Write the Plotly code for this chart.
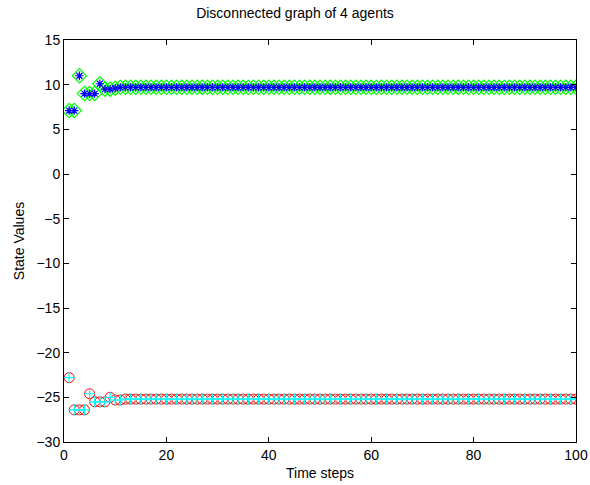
import plotly.graph_objects as go

time_steps = list(range(1, 101))

agent1 = [7.1, 7.1, 11.0, 9.0, 9.0, 9.0, 10.1, 9.5, 9.5, 9.6,
          9.7, 9.7, 9.7, 9.7, 9.7, 9.7, 9.7, 9.7, 9.7, 9.7,
          9.7, 9.7, 9.7, 9.7, 9.7, 9.7, 9.7, 9.7, 9.7, 9.7,
          9.7, 9.7, 9.7, 9.7, 9.7, 9.7, 9.7, 9.7, 9.7, 9.7,
          9.7, 9.7, 9.7, 9.7, 9.7, 9.7, 9.7, 9.7, 9.7, 9.7,
          9.7, 9.7, 9.7, 9.7, 9.7, 9.7, 9.7, 9.7, 9.7, 9.7,
          9.7, 9.7, 9.7, 9.7, 9.7, 9.7, 9.7, 9.7, 9.7, 9.7,
          9.7, 9.7, 9.7, 9.7, 9.7, 9.7, 9.7, 9.7, 9.7, 9.7,
          9.7, 9.7, 9.7, 9.7, 9.7, 9.7, 9.7, 9.7, 9.7, 9.7,
          9.7, 9.7, 9.7, 9.7, 9.7, 9.7, 9.7, 9.7, 9.7, 9.7]
agent2 = list(agent1)

agent3 = [-22.8, -26.4, -26.4, -26.4, -24.6, -25.5, -25.5, -25.5, -25.0, -25.3,
          -25.3, -25.2, -25.2, -25.2, -25.2, -25.2, -25.2, -25.2, -25.2, -25.2,
          -25.2, -25.2, -25.2, -25.2, -25.2, -25.2, -25.2, -25.2, -25.2, -25.2,
          -25.2, -25.2, -25.2, -25.2, -25.2, -25.2, -25.2, -25.2, -25.2, -25.2,
          -25.2, -25.2, -25.2, -25.2, -25.2, -25.2, -25.2, -25.2, -25.2, -25.2,
          -25.2, -25.2, -25.2, -25.2, -25.2, -25.2, -25.2, -25.2, -25.2, -25.2,
          -25.2, -25.2, -25.2, -25.2, -25.2, -25.2, -25.2, -25.2, -25.2, -25.2,
          -25.2, -25.2, -25.2, -25.2, -25.2, -25.2, -25.2, -25.2, -25.2, -25.2,
          -25.2, -25.2, -25.2, -25.2, -25.2, -25.2, -25.2, -25.2, -25.2, -25.2,
          -25.2, -25.2, -25.2, -25.2, -25.2, -25.2, -25.2, -25.2, -25.2, -25.2]
agent4 = list(agent3)

FONT = "Liberation Sans, Arial, Helvetica, sans-serif"

fig = go.Figure()
fig.add_trace(go.Scatter(x=time_steps, y=agent1, mode="markers",
                         marker=dict(symbol="diamond-open", size=11, color="#00ff00",
                                     line=dict(width=1.2, color="#00ff00"))))
fig.add_trace(go.Scatter(x=time_steps, y=agent2, mode="markers",
                         marker=dict(symbol="asterisk-open", size=7, color="#0000ff",
                                     line=dict(width=1.2, color="#0000ff"))))
fig.add_trace(go.Scatter(x=time_steps, y=agent3, mode="markers",
                         marker=dict(symbol="circle-open", size=10, color="#ff0000",
                                     line=dict(width=1, color="#ff0000"))))
fig.add_trace(go.Scatter(x=time_steps, y=agent4, mode="markers",
                         marker=dict(symbol="cross-thin-open", size=8, color="#00ffff",
                                     line=dict(width=1.2, color="#00ffff"))))

axis_common = dict(showgrid=False, zeroline=False, showline=True, linecolor="black",
                   linewidth=1, mirror="ticks", ticks="inside", ticklen=5,
                   tickcolor="black", automargin=False,
                   tickfont=dict(family=FONT, size=14, color="black"))

fig.update_layout(
    width=590, height=485,
    margin=dict(l=64, r=14, t=40, b=43),
    paper_bgcolor="white", plot_bgcolor="white",
    showlegend=False,
    title=dict(text="Disconnected graph of 4 agents", x=0.5, xanchor="center",
               y=1 - 13 / 485, yanchor="middle",
               font=dict(family=FONT, size=14, color="black")),
    xaxis=dict(range=[0, 100], dtick=20, tick0=0,
               title=dict(text="Time steps", standoff=6,
                          font=dict(family=FONT, size=14, color="black")),
               **axis_common),
    yaxis=dict(range=[-30, 15], dtick=5, tick0=0,
               title=dict(text="State Values", standoff=8,
                          font=dict(family=FONT, size=14, color="black")),
               **axis_common),
)

fig.write_html("out.html", config={"displayModeBar": False},
               post_script="document.body.style.margin='0';document.body.style.padding='0';")
